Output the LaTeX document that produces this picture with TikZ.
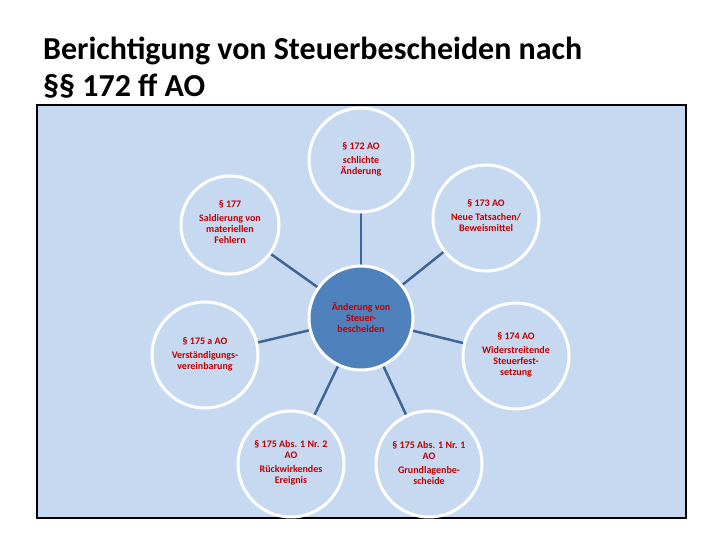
\documentclass[tikz,border=0pt]{standalone}
\usepackage{fontspec}
\setmainfont{Carlito}
\begin{document}
\begin{tikzpicture}[x=1pt,y=-1pt,
  outer/.style={circle,draw=white,line width=3pt,fill=bgblue,minimum size=104pt,inner sep=0pt},
  centre/.style={circle,draw=white,line width=3pt,fill=nodeblue,minimum size=104pt,inner sep=0pt},
  lbl/.style={font=\fontsize{10}{11}\selectfont\bfseries,text=darkred,align=center},
  link/.style={draw=linkblue,line width=2.5pt}]
\definecolor{bgblue}{HTML}{C6D9F1}
\definecolor{nodeblue}{HTML}{4F81BD}
\definecolor{linkblue}{HTML}{3F6596}
\definecolor{darkred}{HTML}{C00000}
\useasboundingbox (0,0) rectangle (720,540);
\fill[white] (0,0) rectangle (720,540);
\node[anchor=base west,inner sep=0pt,align=left,font=\fontsize{32}{37}\selectfont\bfseries] (title) at (43,97)
  {Berichtigung von Steuerbescheiden nach\\§§ 172 ff AO};
\draw[black,line width=2pt,fill=bgblue] (37,105) rectangle (686,518);
\coordinate (pc) at (361,318);
\coordinate (p1) at (361,160);
\coordinate (p2) at (230,225);
\coordinate (p3) at (486,218);
\coordinate (p4) at (205,355);
\coordinate (p5) at (516,356);
\coordinate (p6) at (291,464);
\coordinate (p7) at (429,464);
\foreach \n in {p1,p2,p3,p4,p5,p6,p7} \draw[link] (pc) -- (\n);
\node[centre] (c) at (pc) {};
\node[outer] (n1) at (p1) {};
\node[outer,minimum size=98pt] (n2) at (p2) {};
\node[outer,minimum size=106pt] (n3) at (p3) {};
\node[outer,minimum size=106pt] (n4) at (p4) {};
\node[outer,minimum size=106pt] (n5) at (p5) {};
\node[outer,minimum size=106pt] (n6) at (p6) {};
\node[outer,minimum size=106pt] (n7) at (p7) {};
\node[lbl] (t1) at (361,159) {§ 172 AO\\[3pt]schlichte\\Änderung};
\node[lbl] (t2) at (230,222) {§ 177\\[3pt]Saldierung von\\materiellen\\Fehlern};
\node[lbl] (t3) at (486,216) {§ 173 AO\\[3pt]Neue Tatsachen/\\Beweismittel};
\node[lbl] (t4) at (205,354) {§ 175 a AO\\[3pt]Verständigungs-\\vereinbarung};
\node[lbl] (t5) at (516,355) {§ 174 AO\\[3pt]Widerstreitende\\Steuerfest-\\setzung};
\node[lbl] (t6) at (291,463) {§ 175 Abs. 1 Nr. 2\\AO\\[3pt]Rückwirkendes\\Ereignis};
\node[lbl] (t7) at (429,463) {§ 175 Abs. 1 Nr. 1\\AO\\[3pt]Grundlagenbe-\\scheide};
\node[lbl] (tc) at (361,317) {Änderung von\\Steuer-\\bescheiden};
\end{tikzpicture}
\end{document}
